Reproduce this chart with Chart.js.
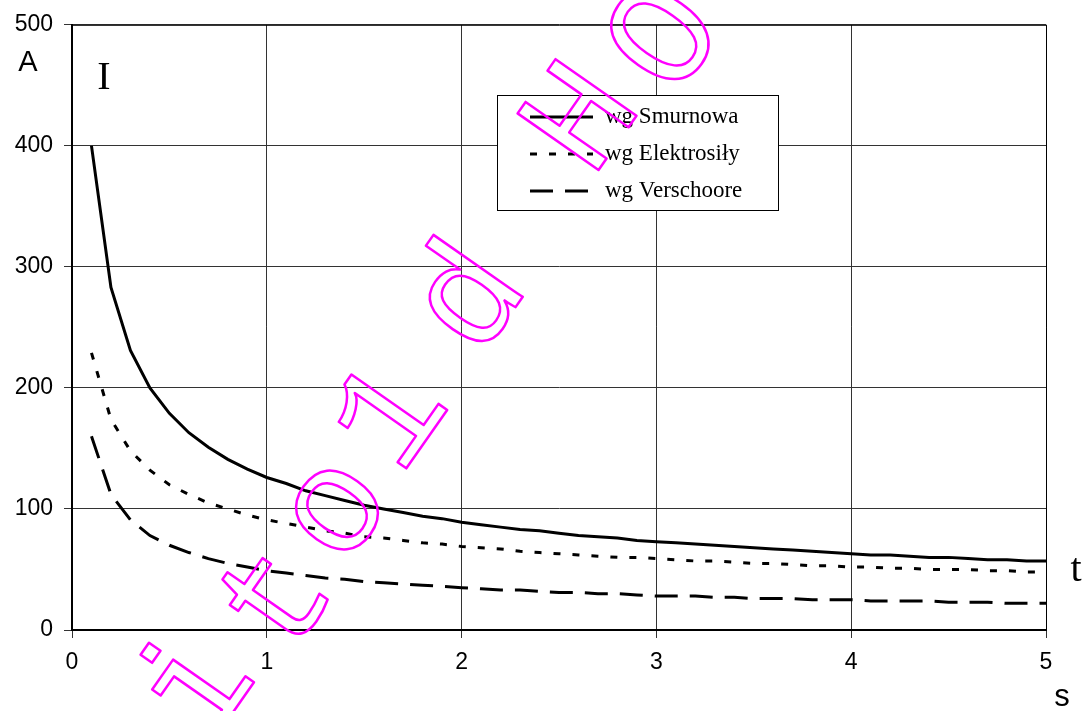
<!DOCTYPE html>
<html>
<head>
<meta charset="utf-8">
<script src="https://cdn.jsdelivr.net/npm/chart.js@4.4.1/dist/chart.umd.min.js"></script>
<style>
  html, body { margin: 0; padding: 0; background: #fff; }
  canvas { display: block; }
</style>
</head>
<body>
<canvas id="wykres" width="1083" height="711"></canvas>
<script>
// czas t [s]
const czas = [
  0.1, 0.2, 0.3, 0.4, 0.5, 0.6, 0.7, 0.8, 0.9, 1.0,
  1.1, 1.2, 1.3, 1.4, 1.5, 1.6, 1.7, 1.8, 1.9, 2.0,
  2.1, 2.2, 2.3, 2.4, 2.5, 2.6, 2.7, 2.8, 2.9, 3.0,
  3.1, 3.2, 3.3, 3.4, 3.5, 3.6, 3.7, 3.8, 3.9, 4.0,
  4.1, 4.2, 4.3, 4.4, 4.5, 4.6, 4.7, 4.8, 4.9, 5.0,
];

// prad I [A]
const smurnowa = [
  400, 283, 231, 200, 179, 163, 151, 141, 133, 126,
  121, 115, 111, 107, 103, 100, 97, 94, 92, 89,
  87, 85, 83, 82, 80, 78, 77, 76, 74, 73,
  72, 71, 70, 69, 68, 67, 66, 65, 64, 63,
  62, 62, 61, 60, 60, 59, 58, 58, 57, 57,
];
const elektrosily = [
  229, 174, 148, 132, 120, 112, 105, 100, 95, 91,
  88, 85, 82, 80, 77, 76, 74, 72, 71, 69,
  68, 67, 65, 64, 63, 62, 61, 60, 60, 59,
  58, 57, 57, 56, 55, 55, 54, 53, 53, 52,
  52, 51, 51, 50, 50, 50, 49, 49, 48, 48,
];
const verschoore = [
  160, 112, 91, 78, 70, 64, 59, 55, 52, 49,
  47, 45, 43, 42, 40, 39, 38, 37, 36, 35,
  34, 33, 33, 32, 31, 31, 30, 30, 29, 28,
  28, 28, 27, 27, 26, 26, 26, 25, 25, 25,
  24, 24, 24, 24, 23, 23, 23, 22, 22, 22,
];

const nazwySerii = ['wg Smurnowa', 'wg Elektrosiły', 'wg Verschoore'];
const kreski = [[], [7, 12], [23, 12]];

// znak wodny (litery)
const znakWodny = ['i', 't', 'o', '1', 'd', 'H', 'O'];

const SANS = "'Liberation Sans', Arial, sans-serif";
const SERIF = "'Liberation Serif', 'Times New Roman', serif";

function punkty(wartosci) {
  return czas.map((t, i) => ({ x: t, y: wartosci[i] }));
}

const serie = [smurnowa, elektrosily, verschoore];

// tlo, ramka, legenda, opisy osi i znak wodny
const dodatki = {
  id: 'dodatki',
  beforeDraw(chart) {
    const ctx = chart.ctx;
    ctx.save();
    ctx.fillStyle = '#fff';
    ctx.fillRect(0, 0, chart.width, chart.height);
    ctx.restore();
  },
  afterDraw(chart) {
    const ctx = chart.ctx;
    const a = chart.chartArea;
    ctx.save();

    // gorna i prawa krawedz
    ctx.strokeStyle = '#000';
    ctx.lineWidth = 1;
    ctx.beginPath();
    ctx.moveTo(a.left, a.top + 0.5);
    ctx.lineTo(a.right + 0.5, a.top + 0.5);
    ctx.lineTo(a.right + 0.5, a.bottom);
    ctx.stroke();

    // opisy osi
    ctx.fillStyle = '#000';
    ctx.textAlign = 'center';
    ctx.textBaseline = 'middle';
    ctx.font = '29px ' + SANS;
    ctx.fillText('A', 28, 63);
    ctx.font = '31px ' + SANS;
    ctx.fillText('s', 1062, 697);
    ctx.font = '40px ' + SERIF;
    ctx.fillText('I', 104, 78);
    ctx.fillText('t', 1076, 570);

    // legenda
    const lx = 497, ly = 95, lw = 281, lh = 115;
    ctx.fillStyle = '#fff';
    ctx.fillRect(lx, ly, lw, lh);
    ctx.strokeStyle = '#000';
    ctx.lineWidth = 1;
    ctx.strokeRect(lx + 0.5, ly + 0.5, lw, lh);
    const wiersze = [117, 154, 191];
    nazwySerii.forEach((nazwa, i) => {
      ctx.beginPath();
      ctx.setLineDash(kreski[i]);
      ctx.lineWidth = 3;
      ctx.moveTo(530, wiersze[i]);
      ctx.lineTo(593, wiersze[i]);
      ctx.stroke();
      ctx.setLineDash([]);
      ctx.fillStyle = '#000';
      ctx.font = '23px ' + SERIF;
      ctx.textAlign = 'left';
      ctx.textBaseline = 'middle';
      ctx.fillText(nazwa, 605, wiersze[i]);
    });

    // znak wodny
    const miejsca = [[200, 690], [280, 602], [337, 510], [393, 418], [472, 300], [585, 120], [668, 40]];
    ctx.strokeStyle = '#ff00ff';
    ctx.lineWidth = 2.5;
    ctx.lineJoin = 'round';
    ctx.font = "150px 'Liberation Mono'";
    ctx.textAlign = 'center';
    ctx.textBaseline = 'middle';
    znakWodny.forEach((ch, i) => {
      ctx.save();
      ctx.translate(miejsca[i][0], miejsca[i][1]);
      ctx.rotate(-55 * Math.PI / 180);
      ctx.strokeText(ch, 0, 0);
      ctx.restore();
    });

    ctx.restore();
  },
};

const chart = new Chart(document.getElementById('wykres'), {
  type: 'line',
  data: {
    datasets: serie.map((s, i) => ({
      label: nazwySerii[i],
      data: punkty(s),
      borderColor: '#000',
      borderWidth: 3,
      borderDash: kreski[i],
      pointRadius: 0,
      fill: false,
      tension: 0,
    })),
  },
  options: {
    responsive: false,
    animation: false,
    layout: { padding: { top: 23, right: 37, left: 0, bottom: 0 } },
    plugins: {
      legend: { display: false },
      tooltip: { enabled: false },
      title: { display: false },
    },
    scales: {
      x: {
        type: 'linear',
        min: 0,
        max: 5,
        ticks: {
          stepSize: 1,
          color: '#000',
          font: { family: SANS, size: 23 },
          padding: 11,
          maxRotation: 0,
        },
        grid: { color: '#333', lineWidth: 1, tickLength: 8 },
        border: { color: '#000', width: 2 },
        afterFit(scale) { scale.height = 81; },
      },
      y: {
        min: 0,
        max: 500,
        ticks: {
          stepSize: 100,
          color: '#000',
          font: { family: SANS, size: 23 },
          padding: 11,
        },
        grid: { color: '#333', lineWidth: 1, tickLength: 8 },
        border: { color: '#000', width: 2 },
        afterFit(scale) { scale.width = 72; },
      },
    },
  },
  plugins: [dodatki],
});
</script>
</body>
</html>
